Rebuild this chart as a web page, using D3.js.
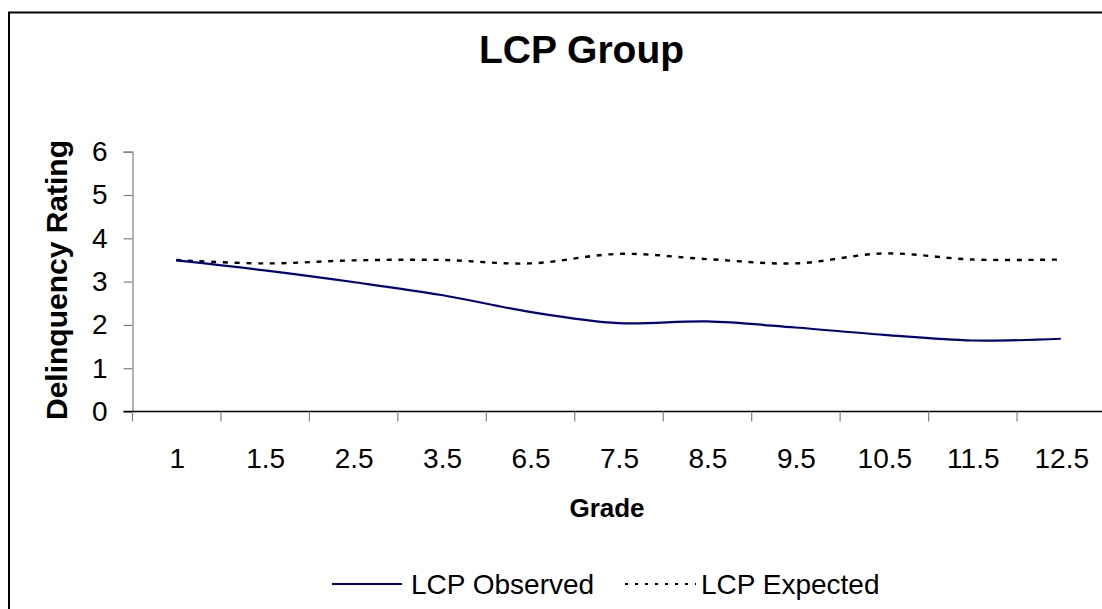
<!DOCTYPE html>
<html>
<head>
<meta charset="utf-8">
<script src="https://cdn.jsdelivr.net/npm/d3@7"></script>
<style>
  html, body { margin: 0; padding: 0; background: #fff; }
  svg { display: block; }
  text { font-family: "Liberation Sans", Arial, sans-serif; fill: #000; }
</style>
</head>
<body>
<svg id="chart" width="1102" height="609"></svg>
<script>
const categories = ["1", "1.5", "2.5", "3.5", "6.5", "7.5", "8.5", "9.5", "10.5", "11.5", "12.5"];
const observed = [3.49, 3.26, 2.99, 2.69, 2.30, 2.04, 2.08, 1.94, 1.77, 1.64, 1.68];
const expected = [3.50, 3.42, 3.49, 3.50, 3.42, 3.64, 3.52, 3.42, 3.65, 3.51, 3.51];
const yTicks = [0, 1, 2, 3, 4, 5, 6];
const seriesNames = ["LCP Observed", "LCP Expected"];
const chartTitle = "LCP Group";
const xTitle = "Grade";
const yTitle = "Delinquency Rating";

const svg = d3.select("#chart");

// chart frame
svg.append("rect")
  .attr("x", 9).attr("y", 12.5).attr("width", 1200).attr("height", 700)
  .attr("fill", "none").attr("stroke", "#000").attr("stroke-width", 2);

const x = d3.scaleBand().domain(categories).range([132, 1105]).padding(0);
const y = d3.scaleLinear().domain([0, 6]).range([411.5, 151.7]);
const cx = d => x(d) + x.bandwidth() / 2;

// y axis
const yAxis = svg.append("g").attr("transform", "translate(132.5,0)")
  .call(d3.axisLeft(y).tickValues(yTicks).tickSize(9).tickPadding(16).tickFormat(d3.format("d")));
yAxis.select(".domain").attr("stroke", "#808080").attr("stroke-width", 1.2);
yAxis.selectAll(".tick line").attr("stroke", "#808080").attr("stroke-width", 1.2);
yAxis.selectAll(".tick text").style("font-size", "28px").attr("fill", "#000")
  .style("font-family", "'Liberation Sans', Arial, sans-serif");

// x axis
const xg = svg.append("g").attr("transform", "translate(0,411.5)");
xg.append("line").attr("x1", 123.5).attr("x2", 1105).attr("y1", 0).attr("y2", 0)
  .attr("stroke", "#000").attr("stroke-width", 1.3);
const boundaries = categories.map(c => x(c)).concat([x(categories[categories.length - 1]) + x.bandwidth()]);
xg.selectAll("line.tk").data(boundaries).join("line").attr("class", "tk")
  .attr("x1", d => d + 0.5).attr("x2", d => d + 0.5).attr("y1", 0).attr("y2", 10)
  .attr("stroke", "#808080").attr("stroke-width", 1.2);
xg.selectAll("text.lbl").data(categories).join("text").attr("class", "lbl")
  .attr("x", d => cx(d) + 1).attr("y", 56)
  .attr("text-anchor", "middle").style("font-size", "28px")
  .text(d => d);

// lines
const line = (vals) => d3.line()
  .x((d, i) => cx(categories[i]))
  .y(d => y(d))
  .curve(d3.curveCatmullRom.alpha(0.5))(vals);

svg.append("path").attr("d", line(expected))
  .attr("fill", "none").attr("stroke", "#000").attr("stroke-width", 2.4)
  .attr("stroke-dasharray", "5,6.7");
svg.append("path").attr("d", line(observed))
  .attr("fill", "none").attr("stroke", "#000080").attr("stroke-width", 2.2);

// titles
svg.append("text").attr("x", 581.5).attr("y", 63).attr("text-anchor", "middle")
  .style("font-size", "39px").style("font-weight", "bold").text(chartTitle);
svg.append("text").attr("x", 607).attr("y", 517).attr("text-anchor", "middle")
  .style("font-size", "26px").style("font-weight", "bold").text(xTitle);
svg.append("text").attr("transform", "translate(67,280) rotate(-90)")
  .attr("text-anchor", "middle")
  .style("font-size", "30px").style("font-weight", "bold").text(yTitle);

// legend
const lg = svg.append("g");
lg.append("line").attr("x1", 332).attr("x2", 402).attr("y1", 584).attr("y2", 584)
  .attr("stroke", "#000080").attr("stroke-width", 2.2);
lg.append("text").attr("x", 411).attr("y", 594).style("font-size", "28px").text(seriesNames[0]);
lg.append("line").attr("x1", 625).attr("x2", 696).attr("y1", 584).attr("y2", 584)
  .attr("stroke", "#000").attr("stroke-width", 2)
  .attr("stroke-dasharray", "3,7");
lg.append("text").attr("x", 701).attr("y", 594).style("font-size", "28px").text(seriesNames[1]);
</script>
</body>
</html>
